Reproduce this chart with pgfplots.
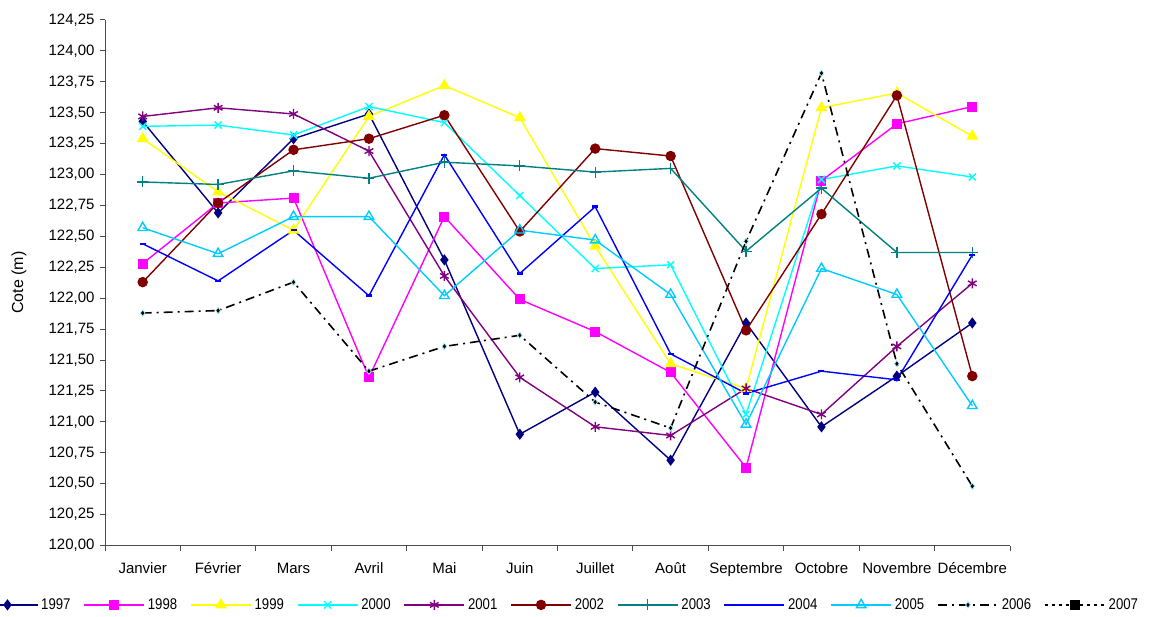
\documentclass[border=0pt]{standalone}
\usepackage{fontspec}
\setmainfont{Liberation Sans}
\newfontfamily\legfont[FakeStretch=0.85]{Liberation Sans}
\usepackage{pgfplots}
\pgfplotsset{compat=1.18}
\newcommand\f{\fontsize{15pt}{18pt}\selectfont}
\newcommand\lf{\legfont\fontsize{15.5pt}{18pt}\selectfont}
\definecolor{c97}{RGB}{0,0,128}
\definecolor{c98}{RGB}{255,0,255}
\definecolor{c99}{RGB}{255,255,0}
\definecolor{c00}{RGB}{0,255,255}
\definecolor{c01}{RGB}{128,0,128}
\definecolor{c02}{RGB}{128,0,0}
\definecolor{c03}{RGB}{0,128,128}
\definecolor{c04}{RGB}{0,0,255}
\definecolor{c05}{RGB}{0,204,255}
\definecolor{halo}{RGB}{170,240,250}
\begin{document}
\begin{tikzpicture}
\path[use as bounding box] (0,0) rectangle (1156pt,-617pt);
\begin{axis}[
  at={(105pt,-545.5pt)}, anchor=south west,
  scale only axis, width=905pt, height=525.5pt,
  xmin=0.5, xmax=12.5, ymin=120, ymax=124.25,
  axis lines=left,
  axis line style={-, black!70, line width=1pt},
  ytick distance=0.25,
  xtick={0.5,1.5,...,12.5}, xticklabels={},
  extra x ticks={1,2,3,4,5,6,7,8,9,10,11,12},
  extra x tick labels={Janvier,Février,Mars,Avril,Mai,Juin,Juillet,Août,Septembre,Octobre,Novembre,Décembre},
  extra x tick style={major tick length=0pt},
  tick align=outside, major tick length=5pt,
  tick style={black!70, line width=1pt},
  xticklabel style={font=\f, text height=11pt, text depth=3pt, yshift=-13pt},
  yticklabel style={font=\f, xshift=-2pt},
  /pgf/number format/.cd, use comma, fixed, fixed zerofill, precision=2, assume math mode=true,
  /pgfplots/.cd,
  ylabel={Cote (m)}, ylabel style={font=\fontsize{16pt}{18pt}\selectfont, at={(axis description cs:-0.095,0.5)}, anchor=center},
  every axis plot/.append style={line width=1.4pt},
  legend columns=11,
  legend style={at={(0.501,-0.113)}, anchor=center, draw=none, font=\lf,
    /tikz/every even column/.append style={column sep=11pt},
    /tikz/every odd column/.append style={column sep=1pt}},
  legend image code/.code={\draw[mark repeat=2,mark phase=2] plot coordinates {(0pt,0pt) (30pt,0pt) (60pt,0pt)};},
]
\addplot[c97, mark=diamond*, mark size=4.5pt, mark options={solid}] coordinates {
(1,123.43) (2,122.69) (3,123.29) (4,123.49) (5,122.31) (6,120.90) (7,121.24) (8,120.69) (9,121.80) (10,120.96) (11,121.37) (12,121.80)};
\addlegendentry{1997}
\addplot[c98, mark=square*, mark size=4.3pt, mark options={solid}] coordinates {
(1,122.28) (2,122.77) (3,122.81) (4,121.36) (5,122.66) (6,121.99) (7,121.73) (8,121.40) (9,120.63) (10,122.95) (11,123.41) (12,123.55)};
\addlegendentry{1998}
\addplot[c99, mark=triangle*, mark size=5.5pt, mark options={solid}] coordinates {
(1,123.29) (2,122.86) (3,122.55) (4,123.47) (5,123.72) (6,123.46) (7,122.42) (8,121.47) (9,121.27) (10,123.54) (11,123.66) (12,123.31)};
\addlegendentry{1999}
\addplot[c00, mark=x, mark size=5pt, mark options={solid}] coordinates {
(1,123.39) (2,123.40) (3,123.32) (4,123.55) (5,123.42) (6,122.83) (7,122.24) (8,122.27) (9,121.06) (10,122.96) (11,123.07) (12,122.98)};
\addlegendentry{2000}
\addplot[c01, mark=asterisk, mark size=5pt, mark options={solid}] coordinates {
(1,123.47) (2,123.54) (3,123.49) (4,123.19) (5,122.18) (6,121.36) (7,120.96) (8,120.89) (9,121.27) (10,121.06) (11,121.61) (12,122.12)};
\addlegendentry{2001}
\addplot[c02, mark=*, mark size=4.5pt, mark options={solid}] coordinates {
(1,122.13) (2,122.77) (3,123.20) (4,123.29) (5,123.48) (6,122.54) (7,123.21) (8,123.15) (9,121.74) (10,122.68) (11,123.64) (12,121.37)};
\addlegendentry{2002}
\addplot[c03, mark=+, mark size=5.5pt, mark options={solid}] coordinates {
(1,122.94) (2,122.92) (3,123.03) (4,122.97) (5,123.10) (6,123.07) (7,123.02) (8,123.05) (9,122.38) (10,122.89) (11,122.37) (12,122.37)};
\addlegendentry{2003}
\addplot[c04, mark=-, mark size=3pt, mark options={solid, line width=2.5pt}] coordinates {
(1,122.44) (2,122.14) (3,122.55) (4,122.02) (5,123.16) (6,122.20) (7,122.74) (8,121.55) (9,121.23) (10,121.41) (11,121.34) (12,122.35)};
\addlegendentry{2004}
\addplot[c05, mark=triangle, mark size=5.5pt, mark options={solid}] coordinates {
(1,122.57) (2,122.36) (3,122.66) (4,122.66) (5,122.02) (6,122.55) (7,122.47) (8,122.03) (9,120.98) (10,122.24) (11,122.03) (12,121.13)};
\addlegendentry{2005}
\addplot[black, line width=1.6pt, dash pattern=on 9pt off 5pt on 2pt off 5pt, mark=diamond*, mark size=3.2pt, mark options={solid, fill=black, draw=halo, line width=0.8pt}] coordinates {
(1,121.88) (2,121.90) (3,122.13) (4,121.41) (5,121.61) (6,121.70) (7,121.16) (8,120.95) (9,122.46) (10,123.82) (11,121.47) (12,120.48)};
\addlegendentry{2006}
\addlegendimage{black, line width=1.6pt, dash pattern=on 3pt off 4pt, mark=square*, mark size=4pt, mark options={solid}}
\addlegendentry{2007}
\end{axis}
\end{tikzpicture}
\end{document}
